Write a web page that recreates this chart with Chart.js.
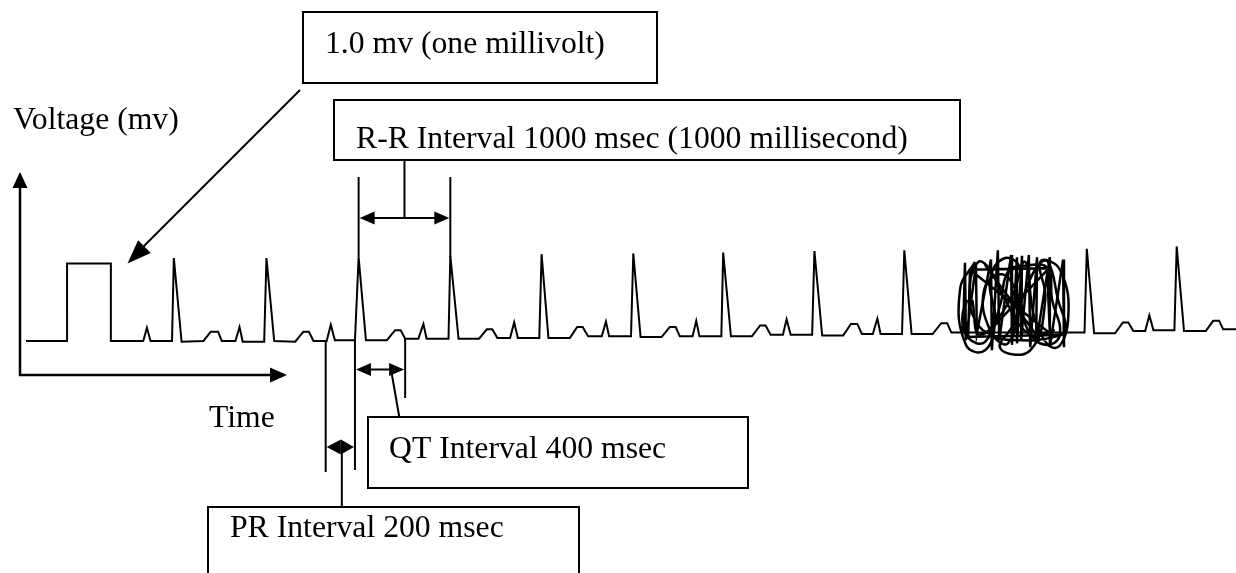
<!DOCTYPE html>
<html>
<head>
<meta charset="utf-8">
<script src="https://cdn.jsdelivr.net/npm/chart.js"></script>
<style>
  html, body { margin: 0; padding: 0; background: #ffffff; }
  #wrap { width: 1236px; height: 573px; position: relative; }
</style>
</head>
<body>
<div id="wrap"><canvas id="c" width="1236" height="573"></canvas></div>
<script>
// ---- ECG trace vertices: time (ms) and voltage (mV) ----
const traceTime = [
  0, 450, 450, 930, 930,                 // lead-in + 1.0 mV calibration pulse
  1285, 1325, 1365, 1600, 1620, 1705,    // beat 1: P, QRS
  1945, 2025, 2105, 2145,                // T
  2295, 2340, 2375, 2610, 2635, 2720,    // beat 2
  2950, 3040, 3100, 3150,
  3295, 3340, 3385, 3605, 3645, 3725,    // beat 3
  3955, 4045, 4105, 4155,
  4300, 4355, 4390, 4630, 4650, 4740,    // beat 4
  4965, 5050, 5110, 5165,
  5305, 5350, 5390, 5625, 5650, 5725,    // beat 5
  5960, 6040, 6100, 6160,
  6310, 6355, 6390, 6630, 6655, 6735,    // beat 6
  6965, 7055, 7120, 7165,
  7305, 7345, 7380, 7620, 7640, 7725,    // beat 7
  7955, 8045, 8105, 8160,
  8295, 8335, 8380, 8615, 8640, 8725,    // beat 8
  8955, 9040, 9110, 9160,
  9280, 9330, 9365, 9600, 9625, 9705,    // beat 9
  9935, 10030, 10095, 10140,
  10270,                                 // artefact region
  11600, 11625, 11705,                   // beat 11 (no P)
  11935, 12020, 12080, 12135,
  12265, 12310, 12355, 12585, 12610, 12690, // beat 12
  12930, 13010, 13075, 13120,
  13260
];
const traceVoltage = [
  0, 0, 1.0, 1.0, 0,
  0, 0.17, 0, 0, 1.07, -0.01,
  0, 0.12, 0.12, 0,
  0, 0.18, -0.01, -0.01, 1.07, 0,
  -0.01, 0.12, 0.12, 0,
  0, 0.21, 0.01, 0.01, 1.08, 0.01,
  0.01, 0.14, 0.14, 0.03,
  0.03, 0.22, 0.03, 0.03, 1.10, 0.03,
  0.03, 0.15, 0.15, 0.04,
  0.04, 0.24, 0.04, 0.04, 1.12, 0.04,
  0.04, 0.18, 0.18, 0.06,
  0.06, 0.25, 0.06, 0.06, 1.13, 0.05,
  0.05, 0.18, 0.18, 0.06,
  0.06, 0.26, 0.06, 0.06, 1.14, 0.06,
  0.06, 0.20, 0.20, 0.08,
  0.08, 0.28, 0.08, 0.08, 1.16, 0.07,
  0.07, 0.22, 0.22, 0.09,
  0.09, 0.29, 0.09, 0.09, 1.17, 0.09,
  0.09, 0.23, 0.23, 0.11,
  0.11,
  0.11, 1.19, 0.10,
  0.10, 0.24, 0.24, 0.13,
  0.13, 0.33, 0.14, 0.14, 1.22, 0.13,
  0.13, 0.26, 0.26, 0.15,
  0.15
];

// ---- artefact scribble (straight strokes; null = pen lifted) ----
const scribbleLineTime = [
  10270, 10290, 10300, 10410, 10420, 10575, 10585, 10650, 10665, 10795, 10805,
  10860, 10860, 10915, 10905, 10990, 11005, 11080, 11070, 11220, 11220, 11365, 11375,
  null, 10325, 10345, 11190, 11220,
  null, 10345, 11220,
  null, 11220, 10565,
  null, 10510, 11115,
  null, 10290, 11330
];
const scribbleLineVoltage = [
  0.12, 1.01, 0.01, 0.98, 0.10, 1.05, -0.12, 1.17, 0.01, 1.11, -0.05,
  1.08, -0.03, 1.10, 0.01, 1.11, -0.08, 1.08, -0.03, 1.08, -0.08, 1.05, -0.08,
  null, 0.04, 0.92, 0.94, 0.10,
  null, 0.92, 0.10,
  null, 0.95, 0.14,
  null, 0.98, 0.01,
  null, 0.05, 0.08
];
// ---- artefact scribble (curved loops; null = pen lifted) ----
const scribbleLoopTime = [
  10315, 10260, 10325, 10510, 10675, 10760, 10950, 11190, 11245, 11330, 11170,
  10980, 10870, 10695, 10500, 10565, 10760, 10915, 11090, 11200, 11310, 11385,
  11220, 10895, 10620, 10400, 10345, 10435, 10565, 10730, 11005, 11275,
  null,
  10400, 10235, 10300, 10510, 10620, 10565, 10730, 10895, 10840, 10675, 11005,
  11170, 11115, 11330, 11420, 11275, 11060, 10950, 10785, 10455, 10370
];
const scribbleLoopVoltage = [
  0.53, 0.30, 0.04, -0.01, 0.46, 0.89, 0.97, 0.94, 0.53, 0.08, -0.05,
  0.14, 0.59, 0.86, 0.66, 0.14, -0.03, 0.53, 0.98, 1.02, 0.53, 0.14,
  0.04, 0.01, 0.06, 0.27, 0.72, 1.02, 0.92, 0.53, 0.08, 0.14,
  null,
  1.02, 0.66, -0.05, -0.12, 0.27, 0.79, 1.07, 0.92, 0.27, -0.09, -0.12,
  0.53, 1.02, 0.92, 0.27, -0.09, 0.27, 1.02, 0.53, 0.08, 0.53
];

// ---- measured intervals (ms) ----
const rrInterval = [3645, 4650];   // R peak to R peak
const prInterval = [3295, 3605];   // P onset to Q
const qtInterval = [3605, 4155];   // Q to end of T
const peakVoltage = 1.08;

// ---- texts ----
const boxLabels = [
  "1.0 mv (one millivolt)",
  "R-R Interval 1000 msec (1000 millisecond)",
  "QT Interval 400 msec",
  "PR Interval 200 msec"
];
const axisLabels = ["Voltage (mv)", "Time"];

// ---- build datasets ----
const zip = (xs, ys) => xs.map((t, i) => ({ x: t, y: ys[i] }));
const lineStyle = { showLine: true, borderColor: '#000', pointRadius: 0, fill: false, spanGaps: false };

const FONT = "31.7px 'Liberation Serif', 'Times New Roman', serif";

function headAt(ctx, tx, ty, ang, len, half) {
  const bx = tx - Math.cos(ang) * len, by = ty - Math.sin(ang) * len;
  const nx = -Math.sin(ang) * half, ny = Math.cos(ang) * half;
  ctx.beginPath();
  ctx.moveTo(tx, ty);
  ctx.lineTo(bx + nx, by + ny);
  ctx.lineTo(bx - nx, by - ny);
  ctx.closePath();
  ctx.fill();
}
function seg(ctx, x1, y1, x2, y2) {
  ctx.beginPath(); ctx.moveTo(x1, y1); ctx.lineTo(x2, y2); ctx.stroke();
}

const annotate = {
  id: 'annotate',
  afterDraw(chart) {
    const ctx = chart.ctx;
    const xs = chart.scales.x, ys = chart.scales.y;
    const px = t => xs.getPixelForValue(t);
    const py = v => ys.getPixelForValue(v);
    ctx.save();
    ctx.strokeStyle = '#000';
    ctx.fillStyle = '#000';
    ctx.lineCap = 'butt';

    // axes with arrows
    ctx.lineWidth = 2.5;
    seg(ctx, 20, 376, 20, 186);
    headAt(ctx, 20, 172, -Math.PI / 2, 16, 7.5);
    seg(ctx, 19, 375, 272, 375);
    headAt(ctx, 287, 375, 0, 17, 7.5);

    // label boxes
    ctx.lineWidth = 2;
    ctx.strokeRect(303, 12, 354, 71);
    ctx.strokeRect(334, 100, 626, 60);
    ctx.strokeRect(368, 417, 380, 71);
    ctx.strokeRect(208, 507, 371, 80);

    // arrow from calibration label to the pulse
    seg(ctx, 300, 90, 140, 250);
    headAt(ctx, 127.5, 263.5, Math.PI * 3 / 4, 24, 9);

    // R-R interval bracket
    const ra = px(rrInterval[0]), rb = px(rrInterval[1]);
    seg(ctx, ra, 177, ra, py(peakVoltage));
    seg(ctx, rb, 177, rb, py(peakVoltage));
    seg(ctx, ra + 10, 218, rb - 10, 218);
    headAt(ctx, ra + 1, 218, Math.PI, 15, 6.5);
    headAt(ctx, rb - 1, 218, 0, 15, 6.5);
    seg(ctx, (ra + rb) / 2, 160, (ra + rb) / 2, 218);

    // PR interval
    const pa = px(prInterval[0]), pb = px(prInterval[1]);
    seg(ctx, pa - 1, py(0), pa - 1, 472);
    seg(ctx, pb, py(0.01), pb, 470);
    const pm = (pa + pb) / 2;
    headAt(ctx, pa, 447, Math.PI, pm - pa, 7.5);
    headAt(ctx, pb - 1, 447, 0, pb - 1 - pm, 7.5);
    seg(ctx, pm + 1, 447, pm + 1, 507);

    // QT interval
    const qa = px(qtInterval[0]), qb = px(qtInterval[1]);
    seg(ctx, qb, py(0.03), qb, 398);
    seg(ctx, qa + 10, 369.5, qb - 10, 369.5);
    headAt(ctx, qa + 1, 369.5, Math.PI, 15, 6.5);
    headAt(ctx, qb - 1, 369.5, 0, 15, 6.5);
    seg(ctx, 391, 369.5, 399.3, 417);

    // texts
    ctx.font = FONT;
    ctx.textBaseline = 'alphabetic';
    ctx.textAlign = 'left';
    ctx.fillText(boxLabels[0], 325, 53);
    ctx.fillText(boxLabels[1], 356, 148);
    ctx.fillText(boxLabels[2], 389, 458);
    ctx.fillText(boxLabels[3], 230, 537);
    ctx.fillText(axisLabels[0], 13, 129);
    ctx.fillText(axisLabels[1], 209, 427);
    ctx.restore();
  }
};

new Chart(document.getElementById('c'), {
  type: 'scatter',
  data: {
    datasets: [
      Object.assign({ label: 'ECG', data: zip(traceTime, traceVoltage), borderWidth: 2, tension: 0 }, lineStyle),
      Object.assign({ label: 'artefact', data: zip(scribbleLineTime, scribbleLineVoltage), borderWidth: 2.5, tension: 0 }, lineStyle),
      Object.assign({ label: 'artefact loops', data: zip(scribbleLoopTime, scribbleLoopVoltage), borderWidth: 2.5, tension: 0.45 }, lineStyle)
    ]
  },
  options: {
    responsive: false,
    animation: false,
    devicePixelRatio: 1,
    layout: { padding: 0 },
    plugins: { legend: { display: false }, tooltip: { enabled: false } },
    scales: {
      x: { type: 'linear', display: false, min: -285, max: 13260 },
      y: { type: 'linear', display: false, min: -2.994, max: 4.40 }
    }
  },
  plugins: [annotate]
});
</script>
</body>
</html>
